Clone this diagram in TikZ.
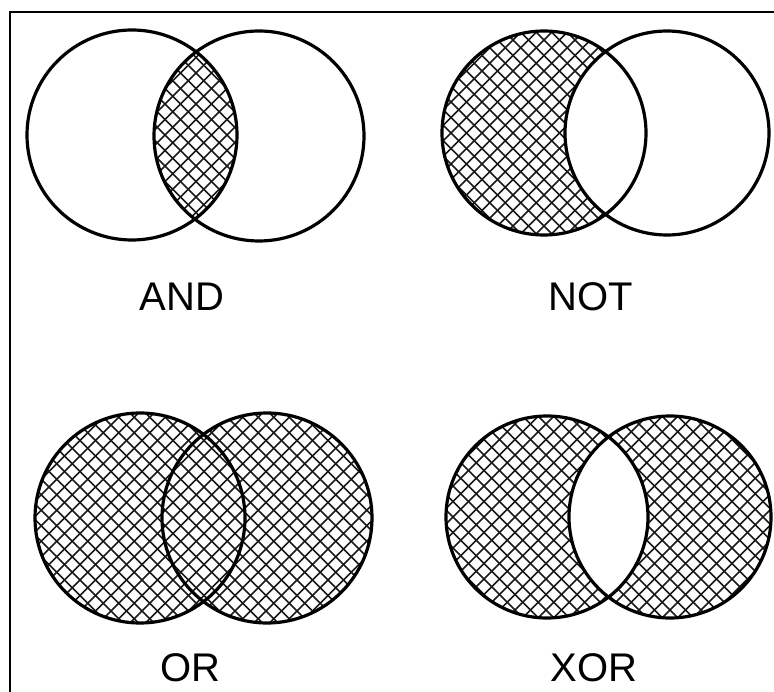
\documentclass[tikz,border=0pt]{standalone}
\usepackage{fontspec}
\setmainfont{Liberation Sans}
% diagonal cross-hatching round a centre, to be clipped
\newcommand{\crosshatch}[2]{%
  \foreach \k in {-34,...,34}{%
    \draw[hatch] ({#1+15.5*\k-260},{#2-260}) -- ++(520,520);
    \draw[hatch] ({#1+15.5*\k+260},{#2-260}) -- ++(-520,520);
  }}
\begin{document}
\begin{tikzpicture}[x=1pt,y=-1pt,line width=3.2pt,
  hatch/.style={line width=1.6pt,black!90},
  lbl/.style={inner sep=0pt,font=\fontsize{40}{48}\selectfont}]
  \useasboundingbox (0,0) rectangle (774,692);
  % frame
  \draw[line width=2pt] (10,692) -- (10,12) -- (774,12);
  % AND: lens only
  \begin{scope}
    \clip (132,135) circle[radius=105];
    \clip (259,136) circle[radius=105];
    \crosshatch{196}{135}
  \end{scope}
  \draw (132,135) circle[radius=105];
  \draw (259,136) circle[radius=105];
  \node[lbl] (and) at (182,297) {AND};
  % NOT: left minus right
  \begin{scope}
    \clip (544,133) circle[radius=102];
    \crosshatch{544}{133}
    \fill[white] (667,133) circle[radius=102];
  \end{scope}
  \draw (544,133) circle[radius=102];
  \draw (667,133) circle[radius=102];
  \node[lbl] (not) at (591,297) {NOT};
  % OR: both circles
  \begin{scope}
    \clip (140,518) circle[radius=105] (267,518) circle[radius=105];
    \crosshatch{204}{518}
  \end{scope}
  \draw (140,518) circle[radius=105];
  \draw (267,518) circle[radius=105];
  \node[lbl] (or) at (190,668) {OR};
  % XOR: both circles without the lens
  \begin{scope}
    \clip (547,517) circle[radius=101] (670,517) circle[radius=101];
    \crosshatch{608}{517}
  \end{scope}
  \begin{scope}
    \clip (547,517) circle[radius=101];
    \fill[white] (670,517) circle[radius=101];
  \end{scope}
  \draw (547,517) circle[radius=101];
  \draw (670,517) circle[radius=101];
  \node[lbl] (xor) at (594,668) {XOR};
\end{tikzpicture}
\end{document}
